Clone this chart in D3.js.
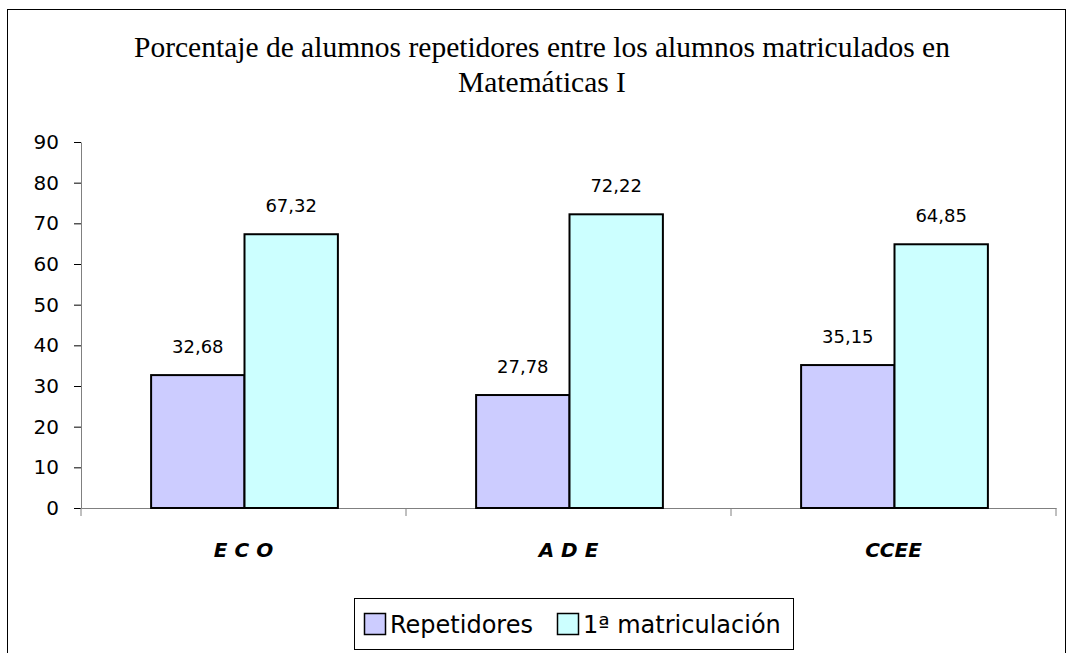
<!DOCTYPE html>
<html>
<head>
<meta charset="utf-8">
<script src="https://cdn.jsdelivr.net/npm/d3@7"></script>
<style>
  body { margin: 0; background: #fff; }
  .y.axis text { font-family: "DejaVu Sans", Verdana, sans-serif; font-size: 20px; fill: #000; }
  .x.axis text { font-family: "DejaVu Sans", sans-serif; font-size: 20px; font-weight: bold; font-style: italic; fill: #000; }
</style>
</head>
<body>
<div id="chart"></div>
<script>
var categories = ["E C O", "A D E", "CCEE"];
var seriesNames = ["Repetidores", "1ª matriculación"];
var repetidores = [32.68, 27.78, 35.15];
var primera = [67.32, 72.22, 64.85];
var valueLabels = [["32,68", "27,78", "35,15"], ["67,32", "72,22", "64,85"]];
var yTicks = [0, 10, 20, 30, 40, 50, 60, 70, 80, 90];
var titleLines = ["Porcentaje de alumnos repetidores entre los alumnos matriculados en", "Matemáticas I"];

var width = 1067, height = 653;
var colors = ["#CCCCFF", "#CCFFFF"];

var svg = d3.select("#chart").append("svg")
    .attr("width", width)
    .attr("height", height);

// chart frame
svg.append("rect")
    .attr("x", 7.5).attr("y", 9.5)
    .attr("width", 1058).attr("height", 660)
    .attr("fill", "#fff")
    .attr("stroke", "#000")
    .attr("stroke-width", 1);

svg.selectAll(".title")
    .data(titleLines)
    .enter().append("text")
    .attr("class", "title")
    .attr("x", 542)
    .attr("y", function(d, i) { return 57 + i * 35; })
    .attr("text-anchor", "middle")
    .attr("font-family", "'Liberation Serif', 'Times New Roman', serif")
    .attr("font-size", "29.5px")
    .text(function(d) { return d; });

var x = d3.scaleBand()
    .domain(categories)
    .range([81, 1056]);

var xSub = d3.scaleBand()
    .domain([0, 1])
    .range([0, x.bandwidth()])
    .paddingOuter(0.74)
    .paddingInner(0);

var y = d3.scaleLinear()
    .domain([0, 90])
    .range([508, 142]);

var yAxis = d3.axisLeft(y).tickValues(yTicks).tickSizeInner(7).tickSizeOuter(0).tickPadding(15);
var xAxis = d3.axisBottom(x).tickSize(0).tickPadding(35);

var axisY = svg.append("g")
    .attr("class", "y axis")
    .attr("transform", "translate(81,0)")
    .call(yAxis);
axisY.select(".domain").attr("stroke", "#808080");
axisY.selectAll(".tick line").attr("stroke", "#000");
axisY.append("line")
    .attr("x1", 0).attr("x2", 0)
    .attr("y1", 508).attr("y2", 516)
    .attr("stroke", "#808080");

var axisX = svg.append("g")
    .attr("class", "x axis")
    .attr("transform", "translate(0,508)")
    .call(xAxis);
axisX.select(".domain").attr("stroke", "#808080");

// category separator ticks
svg.selectAll(".sep")
    .data(categories)
    .enter().append("line")
    .attr("class", "sep")
    .attr("x1", function(d) { return x(d) + x.bandwidth(); })
    .attr("x2", function(d) { return x(d) + x.bandwidth(); })
    .attr("y1", 508).attr("y2", 516)
    .attr("stroke", "#808080");

var data = [];
categories.forEach(function(c, i) {
    data.push({ cat: c, s: 0, v: repetidores[i], label: valueLabels[0][i] });
    data.push({ cat: c, s: 1, v: primera[i], label: valueLabels[1][i] });
});

var bar = svg.selectAll(".bar-group")
    .data(data)
    .enter().append("g").attr("class", "bar-group");

bar.append("rect")
    .attr("x", function(d) { return x(d.cat) + xSub(d.s) + 1; })
    .attr("width", xSub.bandwidth())
    .attr("y", function(d) { return y(d.v); })
    .attr("height", function(d) { return y(0) - y(d.v); })
    .attr("fill", function(d) { return colors[d.s]; })
    .attr("stroke", "#000")
    .attr("stroke-width", 2);

bar.append("text")
    .attr("x", function(d) { return x(d.cat) + xSub(d.s) + 1 + xSub.bandwidth() / 2; })
    .attr("y", function(d) { return y(d.v) - 22; })
    .attr("text-anchor", "middle")
    .attr("font-family", "'DejaVu Sans', Verdana, sans-serif")
    .attr("font-size", "18px")
    .text(function(d) { return d.label; });

// legend
var legend = svg.append("g").attr("transform", "translate(354,598)");
legend.append("rect")
    .attr("x", 0.5).attr("y", 0.5)
    .attr("width", 439).attr("height", 51)
    .attr("fill", "#fff")
    .attr("stroke", "#000");

var legendX = [10, 203];
var item = legend.selectAll(".legend-item")
    .data(seriesNames)
    .enter().append("g")
    .attr("class", "legend-item")
    .attr("transform", function(d, i) { return "translate(" + legendX[i] + ",0)"; });

item.append("rect")
    .attr("x", 0.5).attr("y", 15.5)
    .attr("width", 21).attr("height", 21)
    .attr("fill", function(d, i) { return colors[i]; })
    .attr("stroke", "#000")
    .attr("stroke-width", 1.5);

item.append("text")
    .attr("x", 26)
    .attr("y", 35)
    .attr("font-family", "'DejaVu Sans', sans-serif")
    .attr("font-size", "24px")
    .text(function(d) { return d; });
</script>
</body>
</html>
